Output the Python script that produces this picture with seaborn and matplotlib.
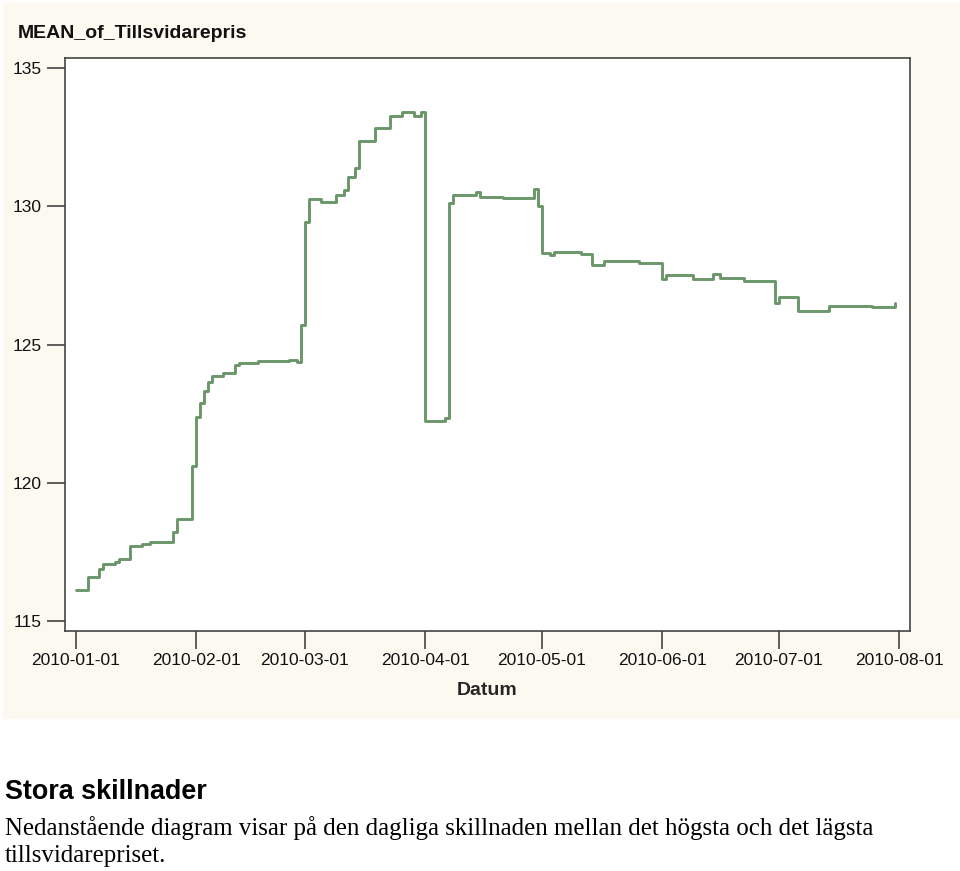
"""
Step chart of the daily mean 'Tillsvidarepris' during 2010.
"""

import pandas as pd
import matplotlib.pyplot as plt
import matplotlib.dates as mdates
from matplotlib.patches import Rectangle
import seaborn as sns

# Dates where the mean price changes, and the value from that date on
change_dates = [
    "2010-01-01", "2010-01-04", "2010-01-07", "2010-01-08", "2010-01-11",
    "2010-01-12", "2010-01-15", "2010-01-18", "2010-01-20", "2010-01-26",
    "2010-01-27", "2010-01-31", "2010-02-01", "2010-02-02", "2010-02-03",
    "2010-02-04", "2010-02-05", "2010-02-08", "2010-02-11", "2010-02-12",
    "2010-02-17", "2010-02-25", "2010-02-27", "2010-02-28", "2010-03-01",
    "2010-03-02", "2010-03-05", "2010-03-09", "2010-03-11", "2010-03-12",
    "2010-03-14", "2010-03-15", "2010-03-19", "2010-03-23", "2010-03-26",
    "2010-03-29", "2010-03-31", "2010-04-01", "2010-04-06", "2010-04-07",
    "2010-04-08", "2010-04-14", "2010-04-15", "2010-04-21", "2010-04-29",
    "2010-04-30", "2010-05-01", "2010-05-03", "2010-05-04", "2010-05-11",
    "2010-05-14", "2010-05-17", "2010-05-26", "2010-06-01", "2010-06-02",
    "2010-06-09", "2010-06-14", "2010-06-16", "2010-06-22", "2010-06-30",
    "2010-07-01", "2010-07-06", "2010-07-14", "2010-07-25", "2010-07-31",
]
mean_price = [
    116.12, 116.60, 116.87, 117.06, 117.15,
    117.25, 117.72, 117.78, 117.85, 118.23,
    118.69, 120.62, 122.39, 122.90, 123.33,
    123.66, 123.86, 123.98, 124.26, 124.32,
    124.41, 124.45, 124.38, 125.70, 129.44,
    130.25, 130.17, 130.41, 130.59, 131.05,
    131.37, 132.36, 132.82, 133.26, 133.40,
    133.28, 133.42, 122.23, 122.33, 130.11,
    130.41, 130.53, 130.32, 130.29, 130.62,
    130.00, 128.32, 128.24, 128.36, 128.27,
    127.89, 128.02, 127.94, 127.36, 127.51,
    127.37, 127.54, 127.42, 127.31, 126.51,
    126.73, 126.22, 126.40, 126.37, 126.51,
]

x_ticks = ["2010-01-01", "2010-02-01", "2010-03-01", "2010-04-01",
           "2010-05-01", "2010-06-01", "2010-07-01", "2010-08-01"]
y_ticks = [115, 120, 125, 130, 135]

heading = "Stora skillnader"
body_lines = [
    "Nedanstående diagram visar på den dagliga skillnaden mellan det högsta och det lägsta",
    "tillsvidarepriset.",
]

df = pd.DataFrame({"Datum": pd.to_datetime(change_dates), "MEAN": mean_price})

sns.set_style("white")
plt.rcParams['font.family'] = ['Liberation Sans', 'DejaVu Sans']

W, H = 960, 871
fig = plt.figure(figsize=(W / 100, H / 100), dpi=100)
fig.patch.set_facecolor("white")

# cream panel behind the graph
fig.patches.append(Rectangle((3 / W, 1 - 719 / H), 957 / W, 716 / H,
                             transform=fig.transFigure, facecolor="#fcf9f1",
                             edgecolor="none", zorder=-1))

ax = fig.add_axes([65 / W, 1 - 631 / H, 845 / W, 573 / H])
ax.set_facecolor("white")

sns.lineplot(data=df, x="Datum", y="MEAN", ax=ax, drawstyle="steps-post",
             color="#6a966a", linewidth=2.1)

start = pd.Timestamp("2010-01-01")
ax.set_xlim(start - pd.Timedelta(days=2.8), start + pd.Timedelta(days=214.8))
ax.set_ylim(114.64, 135.36)

ax.set_xticks(pd.to_datetime(x_ticks))
ax.xaxis.set_major_formatter(mdates.DateFormatter("%Y-%m-%d"))
ax.set_yticks(y_ticks)
ax.tick_params(axis="both", which="major", direction="out", length=13,
               width=1.2, color="#444444", labelsize=12.5, labelcolor="#111111",
               bottom=True, left=True)
ax.tick_params(axis="x", pad=3)
ax.tick_params(axis="y", pad=4)
ax.grid(False)
for s in ax.spines.values():
    s.set_color("#444444")
    s.set_linewidth(1.2)

ax.set_xlabel("Datum", fontsize=14, fontweight="bold", labelpad=10)
ax.set_ylabel("")
fig.text(18 / W, 1 - 34 / H, "MEAN_of_Tillsvidarepris", fontsize=14,
         fontweight="bold", ha="left", va="center", color="#111111")

fig.text(5 / W, 1 - 792 / H, heading, fontsize=19.4, fontweight="bold",
         ha="left", va="center", color="black")
for i, line in enumerate(body_lines):
    fig.text(5 / W, 1 - (828 + 28 * i) / H, line, fontsize=17.9,
             family=["Liberation Serif", "DejaVu Serif"],
             ha="left", va="center", color="black")

fig.savefig("out.png", dpi=100)
